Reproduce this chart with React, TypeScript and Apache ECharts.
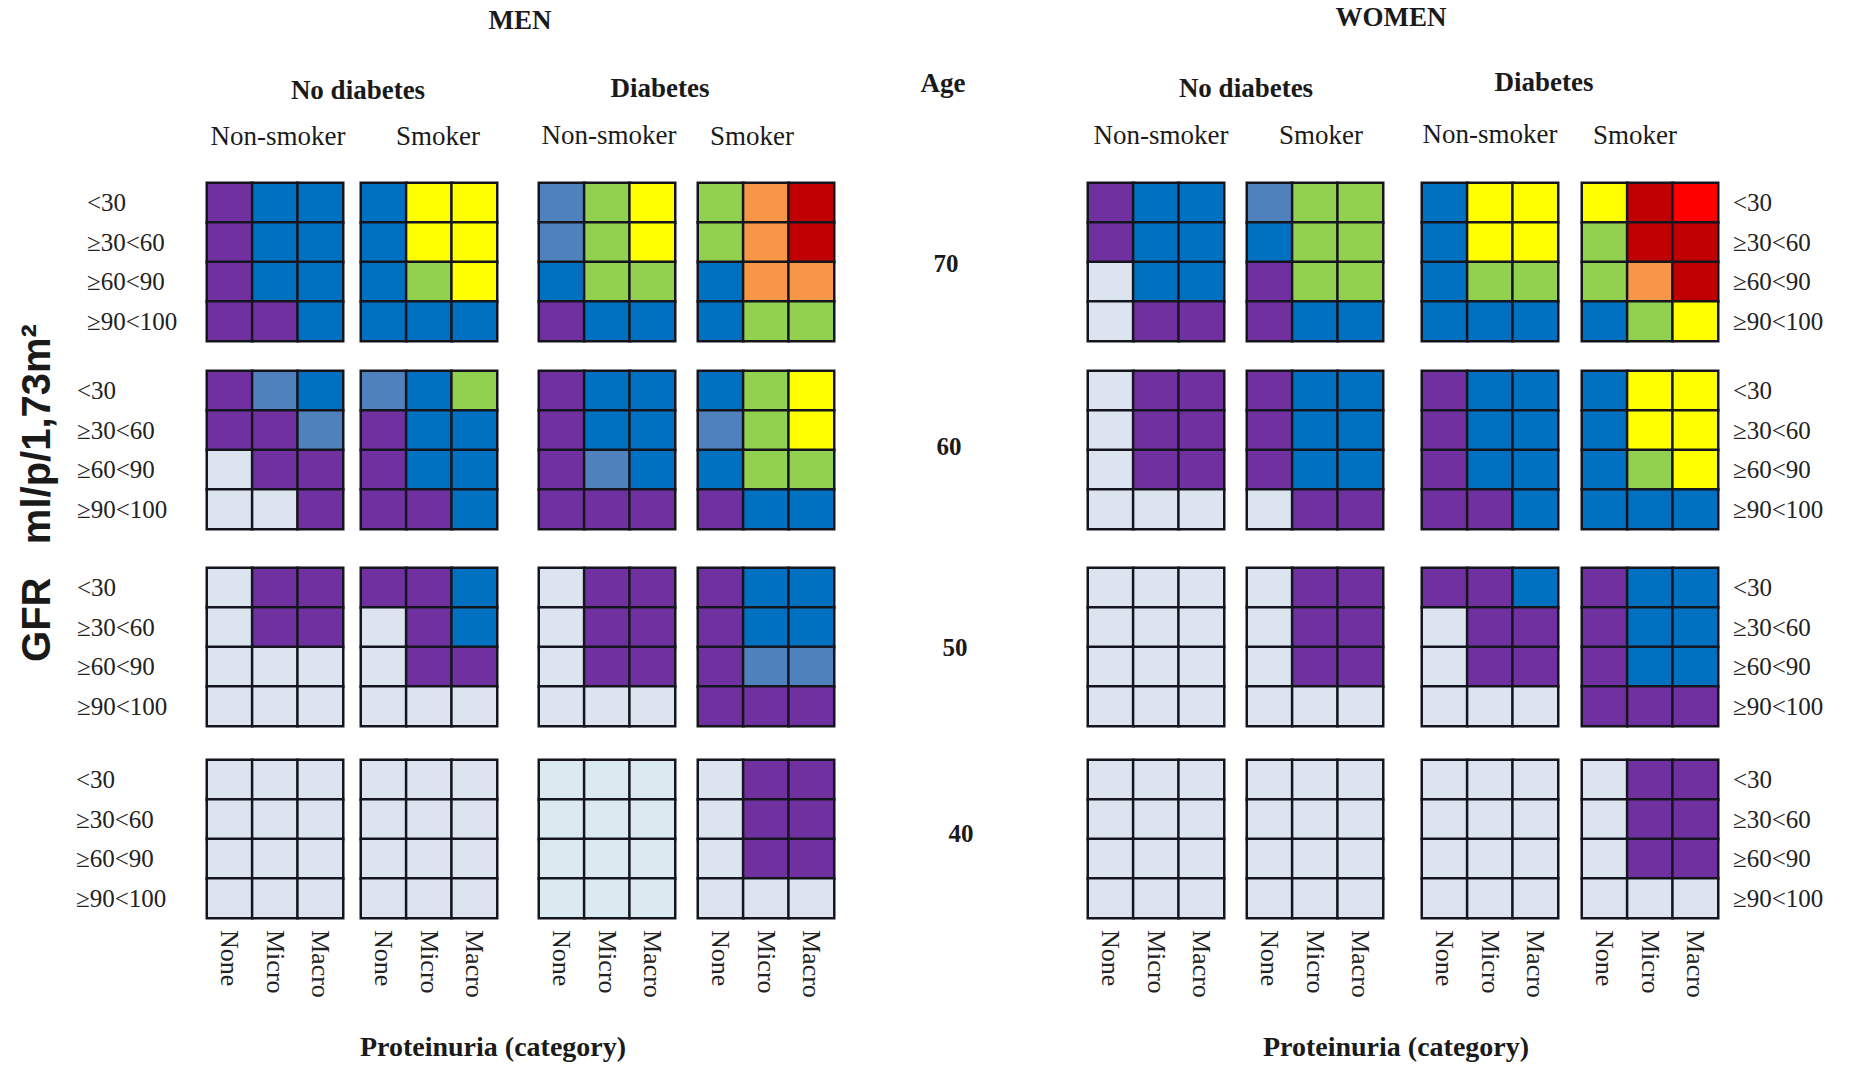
import React, { useEffect, useRef } from "react";
import * as echarts from "echarts";

// ---- Categories ----
const proteinuria = ["None", "Micro", "Macro"];
const gfrBands = ["<30", "≥30<60", "≥60<90", "≥90<100"];
const ages = ["70", "60", "50", "40"];
const groupHeaders = ["No diabetes", "Diabetes"];
const smokerHeaders = ["Non-smoker", "Smoker", "Non-smoker", "Smoker"];

// Risk category colours (index = risk level)
// 0 light, 1 purple, 2 steel blue, 3 blue, 4 green, 5 yellow, 6 orange, 7 dark red, 8 red, 9 light cyan
const riskColors = ["#dce4f0", "#7030a0", "#4f81bd", "#0070c0", "#92d050", "#ffff00", "#f79646", "#c00000", "#ff0000", "#dbe9f1"];

// Each age row: 4 panels (No diab non-smoker, No diab smoker, Diab non-smoker, Diab smoker)
// each panel: 4 GFR rows (top to bottom) x 3 proteinuria columns
const menAge70 = [
  [[1, 3, 3], [1, 3, 3], [1, 3, 3], [1, 1, 3]],
  [[3, 5, 5], [3, 5, 5], [3, 4, 5], [3, 3, 3]],
  [[2, 4, 5], [2, 4, 5], [3, 4, 4], [1, 3, 3]],
  [[4, 6, 7], [4, 6, 7], [3, 6, 6], [3, 4, 4]],
];
const menAge60 = [
  [[1, 2, 3], [1, 1, 2], [0, 1, 1], [0, 0, 1]],
  [[2, 3, 4], [1, 3, 3], [1, 3, 3], [1, 1, 3]],
  [[1, 3, 3], [1, 3, 3], [1, 2, 3], [1, 1, 1]],
  [[3, 4, 5], [2, 4, 5], [3, 4, 4], [1, 3, 3]],
];
const menAge50 = [
  [[0, 1, 1], [0, 1, 1], [0, 0, 0], [0, 0, 0]],
  [[1, 1, 3], [0, 1, 3], [0, 1, 1], [0, 0, 0]],
  [[0, 1, 1], [0, 1, 1], [0, 1, 1], [0, 0, 0]],
  [[1, 3, 3], [1, 3, 3], [1, 2, 2], [1, 1, 1]],
];
const menAge40 = [
  [[0, 0, 0], [0, 0, 0], [0, 0, 0], [0, 0, 0]],
  [[0, 0, 0], [0, 0, 0], [0, 0, 0], [0, 0, 0]],
  [[9, 9, 9], [9, 9, 9], [9, 9, 9], [9, 9, 9]],
  [[0, 1, 1], [0, 1, 1], [0, 1, 1], [0, 0, 0]],
];
const womenAge70 = [
  [[1, 3, 3], [1, 3, 3], [0, 3, 3], [0, 1, 1]],
  [[2, 4, 4], [3, 4, 4], [1, 4, 4], [1, 3, 3]],
  [[3, 5, 5], [3, 5, 5], [3, 4, 4], [3, 3, 3]],
  [[5, 7, 8], [4, 7, 7], [4, 6, 7], [3, 4, 5]],
];
const womenAge60 = [
  [[0, 1, 1], [0, 1, 1], [0, 1, 1], [0, 0, 0]],
  [[1, 3, 3], [1, 3, 3], [1, 3, 3], [0, 1, 1]],
  [[1, 3, 3], [1, 3, 3], [1, 3, 3], [1, 1, 3]],
  [[3, 5, 5], [3, 5, 5], [3, 4, 5], [3, 3, 3]],
];
const womenAge50 = [
  [[0, 0, 0], [0, 0, 0], [0, 0, 0], [0, 0, 0]],
  [[0, 1, 1], [0, 1, 1], [0, 1, 1], [0, 0, 0]],
  [[1, 1, 3], [0, 1, 1], [0, 1, 1], [0, 0, 0]],
  [[1, 3, 3], [1, 3, 3], [1, 3, 3], [1, 1, 1]],
];
const womenAge40 = [
  [[0, 0, 0], [0, 0, 0], [0, 0, 0], [0, 0, 0]],
  [[0, 0, 0], [0, 0, 0], [0, 0, 0], [0, 0, 0]],
  [[0, 0, 0], [0, 0, 0], [0, 0, 0], [0, 0, 0]],
  [[0, 1, 1], [0, 1, 1], [0, 1, 1], [0, 0, 0]],
];

const men = [menAge70, menAge60, menAge50, menAge40];
const women = [womenAge70, womenAge60, womenAge50, womenAge40];

// ---- Layout ----
const menLefts = [207, 361, 539, 698];
const womenLefts = [1088, 1247, 1422, 1582];
const rowTops = [183, 371, 568, 760];
const panelW = 136;
const panelH = 158;
const menLabelMargins = [120, 130, 130, 131];

const serif = "'Liberation Serif', 'Times New Roman', serif";

export default function App() {
  const ref = useRef<HTMLDivElement>(null);
  useEffect(() => {
    if (!ref.current) return;
    const chart = echarts.init(ref.current, undefined, { renderer: "svg" });
    const grid: any[] = [];
    const xAxis: any[] = [];
    const yAxis: any[] = [];
    const series: any[] = [];
    const sexes = [men, women];
    sexes.forEach((sexData, s) => {
      sexData.forEach((ageRow, r) => {
        ageRow.forEach((panel, g) => {
          const idx = grid.length;
          const left = (s === 0 ? menLefts : womenLefts)[g];
          grid.push({ left, top: rowTops[r], width: panelW, height: panelH, containLabel: false });
          const showY = (s === 0 && g === 0) || (s === 1 && g === 3);
          xAxis.push({
            type: "category",
            gridIndex: idx,
            data: proteinuria,
            axisLine: { show: false },
            axisTick: { show: false },
            splitLine: { show: false },
            axisLabel: {
              show: r === 3,
              rotate: -90,
              margin: 12,
              fontFamily: serif,
              fontSize: 26,
              color: "#222",
            },
          });
          yAxis.push({
            type: "category",
            gridIndex: idx,
            data: gfrBands,
            inverse: true,
            position: s === 0 ? "left" : "right",
            axisLine: { show: false },
            axisTick: { show: false },
            splitLine: { show: false },
            axisLabel: {
              show: showY,
              align: "left",
              margin: s === 0 ? menLabelMargins[r] : 15,
              fontFamily: serif,
              fontSize: 25,
              color: "#222",
            },
          });
          const data: number[][] = [];
          panel.forEach((row, yi) => {
            row.forEach((v, xi) => data.push([xi, yi, v]));
          });
          series.push({
            type: "heatmap",
            xAxisIndex: idx,
            yAxisIndex: idx,
            data,
            itemStyle: { borderColor: "#15151f", borderWidth: 2.5 },
            emphasis: { disabled: true },
          });
        });
      });
    });

    const txt = (x: number, y: number, text: string, size: number, bold: boolean, family = serif, extra: any = {}) => ({
      type: "text",
      x,
      y,
      ...extra,
      style: {
        text,
        fontFamily: family,
        fontSize: size,
        fontWeight: bold ? "bold" : "normal",
        fill: "#1a1a1a",
        textAlign: "center",
        textVerticalAlign: "middle",
      },
    });

    const graphics: any[] = [
      txt(520, 20, "MEN", 27, true),
      txt(1391, 17, "WOMEN", 27, true),
      txt(358, 90, groupHeaders[0], 27, true),
      txt(660, 88, groupHeaders[1], 27, true),
      txt(943, 83, "Age", 27, true),
      txt(1246, 88, groupHeaders[0], 27, true),
      txt(1544, 82, groupHeaders[1], 27, true),
      txt(278, 136, smokerHeaders[0], 27, false),
      txt(438, 136, smokerHeaders[1], 27, false),
      txt(609, 135, smokerHeaders[2], 27, false),
      txt(752, 136, smokerHeaders[3], 27, false),
      txt(1161, 135, smokerHeaders[0], 27, false),
      txt(1321, 135, smokerHeaders[1], 27, false),
      txt(1490, 134, smokerHeaders[2], 27, false),
      txt(1635, 135, smokerHeaders[3], 27, false),
      txt(946, 263, ages[0], 25, true),
      txt(949, 446, ages[1], 25, true),
      txt(955, 647, ages[2], 25, true),
      txt(961, 833, ages[3], 25, true),
      txt(493, 1046, "Proteinuria (category)", 28, true),
      txt(1396, 1046, "Proteinuria (category)", 28, true),
      txt(36, 493, "GFR   ml/p/1,73m²", 40, true, "'Liberation Sans', Arial, sans-serif", { rotation: Math.PI / 2 }),
    ];

    chart.setOption({
      animation: false,
      backgroundColor: "#ffffff",
      grid,
      xAxis,
      yAxis,
      visualMap: {
        type: "piecewise",
        show: false,
        dimension: 2,
        pieces: riskColors.map((c, i) => ({ value: i, color: c })),
      },
      series,
      graphic: graphics,
    });
    return () => chart.dispose();
  }, []);
  return (
    <div
      ref={ref}
      style={{ position: "fixed", left: 0, top: 0, width: 1855, height: 1067, background: "#fff" }}
    />
  );
}
